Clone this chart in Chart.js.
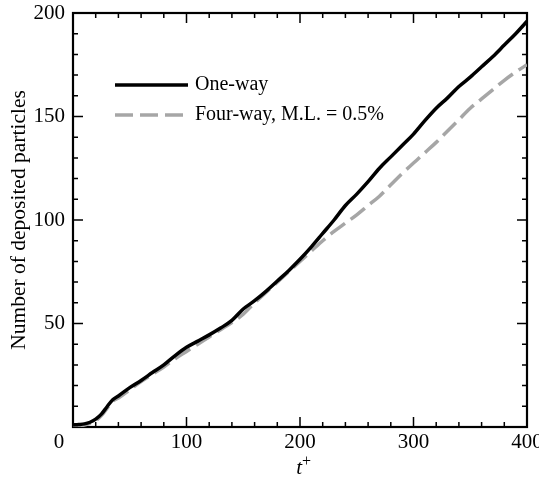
<!DOCTYPE html>
<html>
<head>
<meta charset="utf-8">
<script src="https://cdn.jsdelivr.net/npm/chart.js@4.4.0/dist/chart.umd.min.js"></script>
<style>
  html, body { margin: 0; padding: 0; background: #fff; }
  #wrap { width: 539px; height: 479px; }
</style>
</head>
<body>
<div id="wrap"><canvas id="chart" width="539" height="479"></canvas></div>
<script>
// values
const tPlus = [0, 5, 10, 15, 20, 25, 30, 35, 40, 50, 60, 70, 80, 90, 100, 110, 120, 130, 140, 150,
  160, 170, 180, 190, 200, 210, 220, 230, 240, 250, 260, 270, 280, 290, 300, 310, 320, 330, 340, 350,
  360, 370, 380, 390, 400];
const oneWay = [1, 1.2, 1.5, 2.3, 3.8, 6.2, 9.8, 13.2, 15, 19, 22.5, 26.3, 30, 34.5, 38.5, 41.5, 44.5, 47.8, 51.5, 57,
  61, 65.5, 70.5, 75.5, 81, 87, 93.5, 100, 107, 112.5, 118.5, 125, 130.5, 136, 141.5, 148, 154, 159, 164.5, 169,
  174, 179, 184.5, 190, 196];
const fourWay = [0.5, 0.7, 1, 1.8, 3, 5.5, 9, 12.5, 14, 18, 22, 25.5, 29, 33, 36.5, 40, 43.5, 47, 50.5, 54.5,
  60, 65, 70, 75, 80, 85, 90, 94.5, 98.5, 102.5, 107, 111.5, 117, 122.5, 127.5, 132.5, 137.5, 143, 148.5, 154,
  158.5, 163, 167.5, 171.5, 175];
const seriesNames = ['One-way', 'Four-way, M.L. = 0.5%'];
const xRange = [0, 400];
const yRange = [0, 200];
const xMajor = 100, xMinor = 20;
const yMajor = 50, yMinor = 10;

const serif = '"Liberation Serif", "Times New Roman", serif';

// box, inward ticks on all four sides, legend and the t+ title
const decorations = {
  id: 'decorations',
  beforeDatasetsDraw(chart) {
    const { ctx, chartArea: a, scales: { x, y } } = chart;
    ctx.save();
    ctx.strokeStyle = '#000';
    ctx.lineWidth = 1.5;
    ctx.beginPath();
    for (let v = xRange[0]; v <= xRange[1]; v += xMinor) {
      const px = x.getPixelForValue(v);
      const len = v % xMajor === 0 ? 10 : 5;
      ctx.moveTo(px, a.bottom); ctx.lineTo(px, a.bottom - len);
      ctx.moveTo(px, a.top); ctx.lineTo(px, a.top + len);
    }
    for (let v = yRange[0]; v <= yRange[1]; v += yMinor) {
      const py = y.getPixelForValue(v);
      const len = v % yMajor === 0 ? 10 : 5;
      ctx.moveTo(a.left, py); ctx.lineTo(a.left + len, py);
      ctx.moveTo(a.right, py); ctx.lineTo(a.right - len, py);
    }
    ctx.stroke();
    ctx.lineWidth = 2.2;
    ctx.strokeRect(a.left, a.top, a.width, a.height);
    ctx.restore();
  },
  afterDatasetsDraw(chart) {
    const { ctx, chartArea: a } = chart;
    ctx.save();
    // legend
    chart.data.datasets.forEach((ds, i) => {
      const ly = a.top + 72 + i * 30;
      ctx.strokeStyle = ds.borderColor;
      ctx.lineWidth = ds.borderWidth;
      ctx.setLineDash(ds.borderDash || []);
      ctx.beginPath();
      ctx.moveTo(a.left + 42, ly);
      ctx.lineTo(a.left + 115, ly);
      ctx.stroke();
      ctx.setLineDash([]);
      ctx.fillStyle = '#000';
      ctx.font = '20px ' + serif;
      ctx.textBaseline = 'middle';
      ctx.textAlign = 'left';
      ctx.fillText(ds.label, a.left + 122, ly);
    });
    ctx.restore();
  },
  afterDraw(chart) {
    const { ctx, chartArea: a, scales: { x } } = chart;
    ctx.save();
    ctx.fillStyle = '#000';
    ctx.textBaseline = 'alphabetic';
    // origin label sits to the lower left of the corner
    ctx.font = '21px ' + serif;
    ctx.textAlign = 'center';
    ctx.fillText('0', x.getPixelForValue(0) - 14, a.bottom + 21);
    // x title: italic t with superscript +
    const cx = (a.left + a.right) / 2;
    ctx.font = 'italic 21px ' + serif;
    ctx.textAlign = 'right';
    ctx.fillText('t', cx + 2, a.bottom + 47);
    ctx.font = '16px ' + serif;
    ctx.textAlign = 'left';
    ctx.fillText('+', cx + 2, a.bottom + 39);
    ctx.restore();
  }
};

new Chart(document.getElementById('chart'), {
  type: 'line',
  data: {
    labels: tPlus,
    datasets: [
      {
        label: seriesNames[0],
        data: tPlus.map((t, i) => ({ x: t, y: oneWay[i] })),
        borderColor: '#000',
        borderWidth: 3.5,
        pointRadius: 0,
        cubicInterpolationMode: 'monotone',
        fill: false
      },
      {
        label: seriesNames[1],
        data: tPlus.map((t, i) => ({ x: t, y: fourWay[i] })),
        borderColor: '#a6a6a6',
        borderWidth: 3.5,
        borderDash: [18, 7],
        pointRadius: 0,
        cubicInterpolationMode: 'monotone',
        fill: false
      }
    ]
  },
  options: {
    responsive: false,
    animation: false,
    devicePixelRatio: 1,
    layout: { padding: { top: 13, right: 12, bottom: 0, left: 0 } },
    plugins: {
      legend: { display: false },
      tooltip: { enabled: false }
    },
    scales: {
      x: {
        type: 'linear',
        min: xRange[0],
        max: xRange[1],
        grid: { display: false, drawTicks: false },
        border: { display: false },
        ticks: {
          stepSize: xMajor,
          padding: 3,
          color: '#000',
          font: { family: serif, size: 21 },
          maxRotation: 0,
          callback: v => (v === 0 ? '' : v)
        },
        afterFit(scale) {
          scale.height = 52;
          scale.paddingLeft = 0;
          scale.paddingRight = 0;
        }
      },
      y: {
        type: 'linear',
        min: yRange[0],
        max: yRange[1],
        grid: { display: false, drawTicks: false },
        border: { display: false },
        ticks: {
          stepSize: yMajor,
          padding: 8,
          color: '#000',
          font: { family: serif, size: 21 },
          callback: v => (v === 0 ? '' : v)
        },
        title: {
          display: true,
          text: 'Number of deposited particles',
          color: '#000',
          font: { family: serif, size: 21.5 },
          padding: { top: 6, bottom: 0 }
        },
        afterFit(scale) {
          scale.width = 73;
          scale.paddingTop = 0;
          scale.paddingBottom = 0;
        }
      }
    }
  },
  plugins: [decorations]
});
</script>
</body>
</html>
